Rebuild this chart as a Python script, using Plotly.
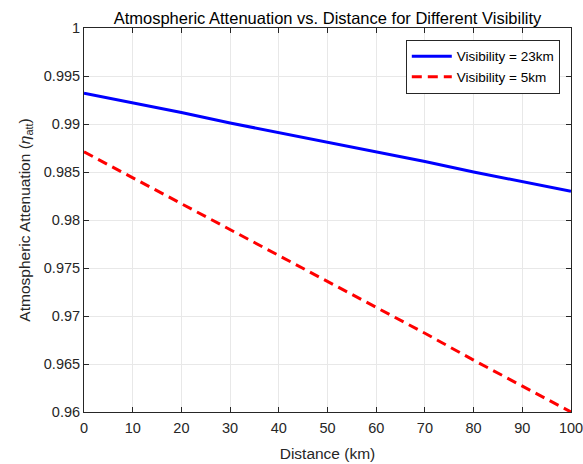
import plotly.graph_objects as go

# distance in km
distance = [0, 10, 20, 30, 40, 50, 60, 70, 80, 90, 100]

# atmospheric attenuation for each visibility
vis_23km = [0.9932, 0.9922, 0.9912, 0.9901, 0.9891, 0.9881, 0.9871, 0.9861, 0.9850, 0.9840, 0.9830]
vis_5km = [0.9871, 0.9844, 0.9817, 0.9790, 0.9763, 0.9736, 0.9709, 0.9682, 0.9654, 0.9627, 0.9600]

y_ticks = [0.96, 0.965, 0.97, 0.975, 0.98, 0.985, 0.99, 0.995, 1]
y_labels = ["0.96", "0.965", "0.97", "0.975", "0.98", "0.985", "0.99", "0.995", "1"]

fig = go.Figure()

fig.add_trace(go.Scatter(x=distance, y=vis_23km, mode="lines",
                         name="Visibility = 23km",
                         line=dict(color="#0000ff", width=3)))
fig.add_trace(go.Scatter(x=distance, y=vis_5km, mode="lines",
                         name="Visibility = 5km",
                         line=dict(color="#ff0000", width=3, dash="10px,6px")))

axis_style = dict(showline=True, linecolor="#262626", linewidth=1, mirror="ticks",
                  ticks="inside", ticklen=5, tickcolor="#262626",
                  showgrid=True, gridcolor="#e8e8e8", gridwidth=1, zeroline=False,
                  ticklabeloverflow="allow", automargin=False,
                  tickfont=dict(size=14.5, color="#262626"))

fig.update_layout(
    width=583, height=464,
    margin=dict(l=84, r=12, t=28, b=52, autoexpand=False),
    paper_bgcolor="white", plot_bgcolor="white",
    font=dict(family="Liberation Sans, Arial, sans-serif", color="#262626"),
    title=dict(text="Atmospheric Attenuation vs. Distance for Different Visibility",
               x=(84 + 571) / 2 / 583, xanchor="center", y=1 - 18 / 464, yanchor="middle",
               font=dict(size=16.5, color="#000000")),
    legend=dict(x=0.977, y=0.969, xanchor="right", yanchor="top",
                bgcolor="white", bordercolor="#262626", borderwidth=1,
                font=dict(size=13.5, color="#000000"),
                tracegroupgap=0, itemwidth=40),
    showlegend=True,
)

fig.update_xaxes(range=[0, 100], dtick=10, tick0=0, ticklabelstandoff=3,
                 title=dict(text="Distance (km)", font=dict(size=15.5, color="#262626"), standoff=12),
                 **axis_style)
fig.update_yaxes(range=[0.96, 1], tickvals=y_ticks, ticktext=y_labels,
                 title=dict(text="Atmospheric Attenuation (<i>η</i><sub>att</sub>)",
                            font=dict(size=15.5, color="#262626"), standoff=9),
                 **axis_style)

# drop the default page margin so the figure fills the window, hide the modebar
fig.write_html("out.html", config={"displayModeBar": False},
               post_script="document.body.style.margin='0';document.body.style.overflow='hidden';")
